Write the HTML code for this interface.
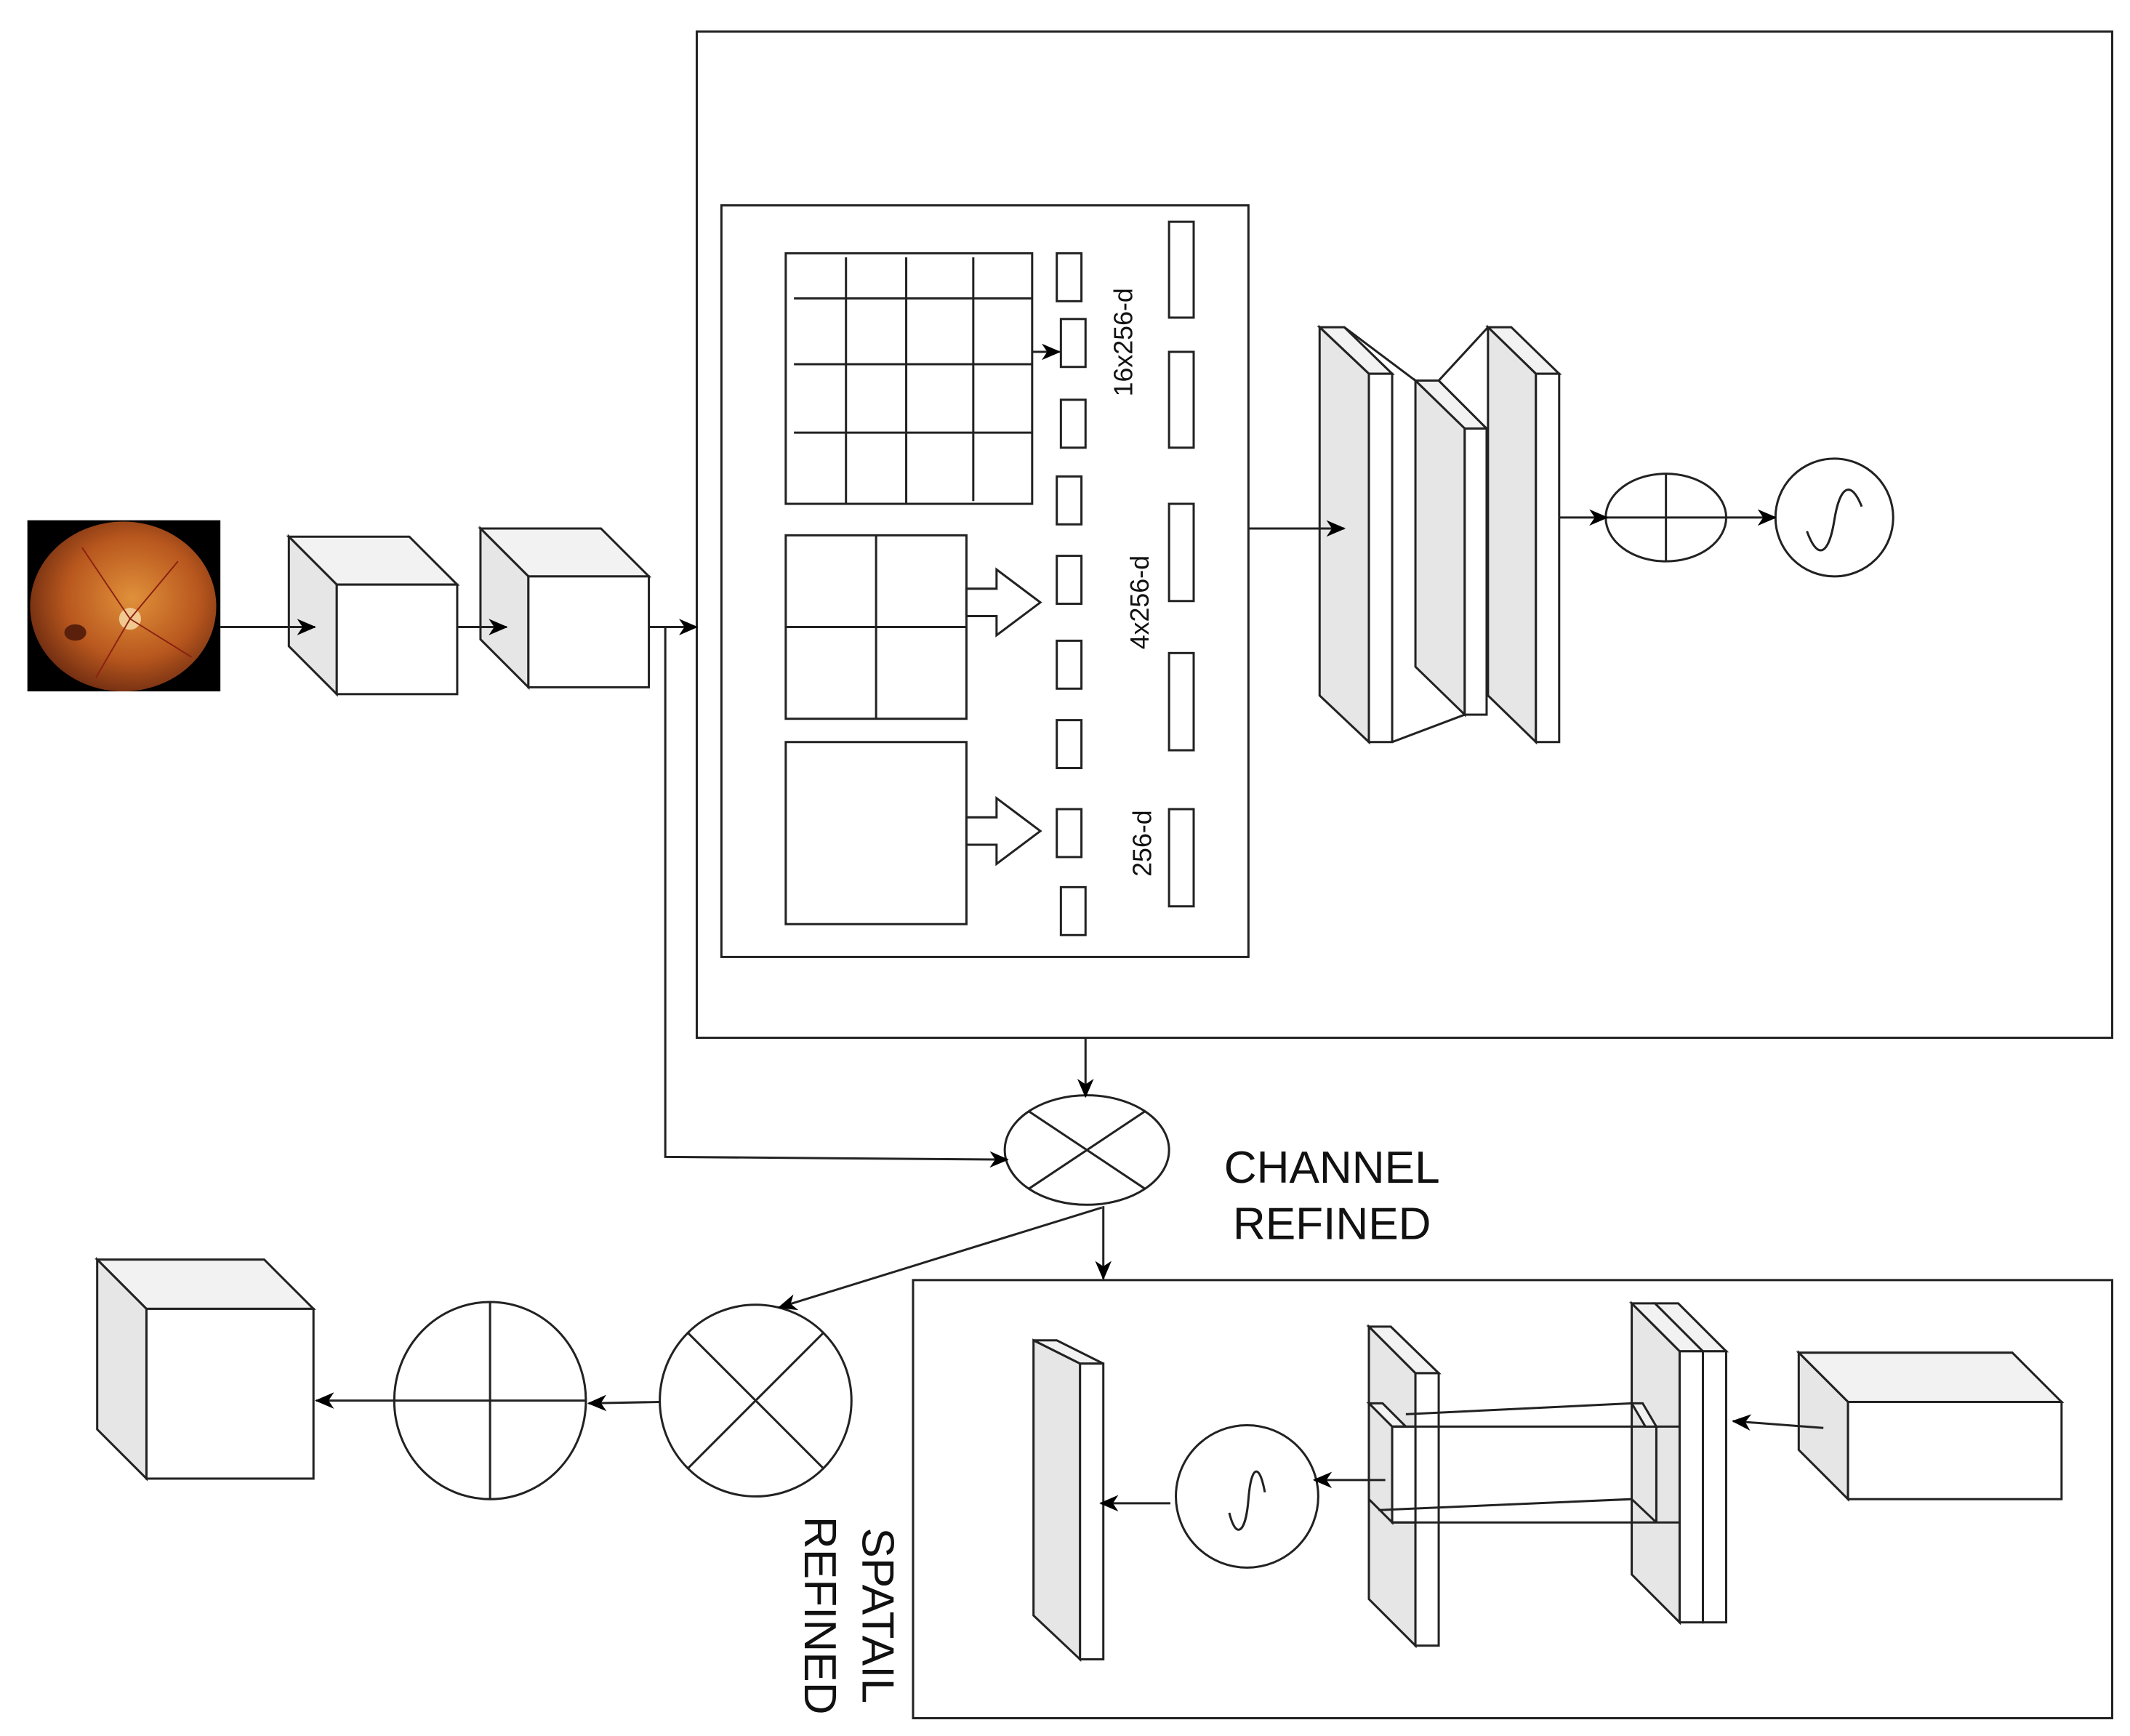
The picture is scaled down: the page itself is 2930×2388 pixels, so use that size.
<!DOCTYPE html>
<html><head><meta charset="utf-8"><style>
html,body{margin:0;padding:0;background:#fff;}
svg{display:block;}
text{font-family:"Liberation Sans",sans-serif;fill:#111;}
</style></head><body>
<svg width="2930" height="2388" viewBox="0 0 1556 1268" preserveAspectRatio="none" xmlns="http://www.w3.org/2000/svg">
<defs>
<marker id="ah" markerWidth="14" markerHeight="14" refX="13" refY="7" orient="auto" markerUnits="userSpaceOnUse">
<path d="M0,1 L14,7 L0,13 L4,7 Z" fill="#000"/></marker>
<radialGradient id="eye" cx="0.55" cy="0.45" r="0.6">
<stop offset="0" stop-color="#e0903a"/><stop offset="0.6" stop-color="#b8571e"/><stop offset="1" stop-color="#6b2a10"/></radialGradient>
</defs>
<g fill="none" stroke="#222" stroke-width="1.6">
<!-- fundus -->
<rect x="20" y="380" width="141" height="125" fill="#000" stroke="none"/>
<ellipse cx="90" cy="443" rx="68" ry="62" fill="url(#eye)" stroke="none"/>
<circle cx="95" cy="452" r="8" fill="#f0c890" stroke="none"/>
<path d="M95,452 L60,400 M95,452 L130,410 M95,452 L70,495 M95,452 L140,480" stroke="#8a2010" stroke-width="1"/>
<ellipse cx="55" cy="462" rx="8" ry="6" fill="#5a200c" stroke="none"/>
<!-- cube1 -->
<polygon points="211,392 299,392 334,427 246,427" fill="#f2f2f2"/>
<polygon points="211,392 246,427 246,507 211,472" fill="#e6e6e6"/>
<rect x="246" y="427" width="88" height="80" fill="#fff"/>
<!-- cube2 -->
<polygon points="351,386 439,386 474,421 386,421" fill="#f2f2f2"/>
<polygon points="351,386 386,421 386,502 351,467" fill="#e6e6e6"/>
<rect x="386" y="421" width="88" height="81" fill="#fff"/>
<!-- big box -->
<rect x="509" y="23" width="1034" height="735"/>
<rect x="527" y="150" width="385" height="549"/>
<!-- grids -->
<rect x="574" y="185" width="180" height="183"/>
<path d="M618,188 V368 M662,188 V368 M711,188 V366 M580,218 H754 M580,266 H754 M580,316 H754"/>
<rect x="574" y="391" width="132" height="134"/>
<path d="M640,391 V525 M574,458 H706"/>
<rect x="574" y="542" width="132" height="133"/>
<polygon points="706,430 728,430 728,416 760,440 728,464 728,450 706,450" fill="#fff"/>
<polygon points="706,597 728,597 728,583 760,607 728,631 728,617 706,617" fill="#fff"/>
<rect x="772" y="185" width="18" height="35"/>
<rect x="775" y="233" width="18" height="35"/>
<rect x="775" y="292" width="18" height="35"/>
<rect x="772" y="348" width="18" height="35"/>
<rect x="772" y="406" width="18" height="35"/>
<rect x="772" y="468" width="18" height="35"/>
<rect x="772" y="526" width="18" height="35"/>
<rect x="772" y="591" width="18" height="35"/>
<rect x="775" y="648" width="18" height="35"/>
<rect x="854" y="162" width="18" height="70"/>
<rect x="854" y="257" width="18" height="70"/>
<rect x="854" y="368" width="18" height="71"/>
<rect x="854" y="477" width="18" height="71"/>
<rect x="854" y="591" width="18" height="71"/>
<!-- plates top -->
<line x1="982" y1="239" x2="1034" y2="278"/>
<line x1="1051" y1="278" x2="1087" y2="239"/>
<line x1="1017" y1="542" x2="1070" y2="522"/>
<polygon points="964,239 982,239 1017,273 1000,273" fill="#f2f2f2"/>
<polygon points="964,239 1000,273 1000,542 964,508" fill="#e6e6e6"/>
<rect x="1000" y="273" width="17" height="269" fill="#fff"/>
<polygon points="1034,278 1051,278 1086,313 1070,313" fill="#f2f2f2"/>
<polygon points="1034,278 1070,313 1070,522 1034,487" fill="#e6e6e6"/>
<rect x="1070" y="313" width="16" height="209" fill="#fff"/>
<polygon points="1087,239 1104,239 1139,273 1122,273" fill="#f2f2f2"/>
<polygon points="1087,239 1122,273 1122,542 1087,508" fill="#e6e6e6"/>
<rect x="1122" y="273" width="17" height="269" fill="#fff"/>
<ellipse cx="1217" cy="378" rx="44" ry="32"/>
<path d="M1173,378 H1261 M1217,346 V410"/>
<circle cx="1340" cy="378" r="43"/>
<path d="M1320,388 C1328,410 1336,405 1340,380 C1344,355 1352,350 1360,370"/>
<!-- channel multiply -->
<ellipse cx="794" cy="840" rx="60" ry="40"/>
<path d="M752,812 L836,868 M836,812 L752,868"/>
<!-- bottom box -->
<rect x="667" y="935" width="876" height="320"/>
<circle cx="552" cy="1023" r="70"/>
<path d="M502,973 L602,1073 M602,973 L502,1073"/>
<ellipse cx="358" cy="1023" rx="70" ry="72"/>
<path d="M288,1023 H428 M358,951 V1095"/>
<polygon points="71,920 193,920 229,956 107,956" fill="#f2f2f2"/>
<polygon points="71,920 107,956 107,1080 71,1044" fill="#e6e6e6"/>
<rect x="107" y="956" width="122" height="124" fill="#fff"/>
<!-- spatial branch -->
<polygon points="755,979 772,979 806,996 789,996" fill="#f2f2f2"/>
<polygon points="755,979 789,996 789,1212 755,1180" fill="#e6e6e6"/>
<rect x="789" y="996" width="17" height="216" fill="#fff"/>
<ellipse cx="911" cy="1093" rx="52" ry="52"/>
<path d="M898,1105 C903,1125 910,1120 912,1095 C914,1070 920,1068 924,1090"/>
<polygon points="1000,969 1016,969 1051,1003 1034,1003" fill="#f2f2f2"/>
<polygon points="1000,969 1034,1003 1034,1202 1000,1168" fill="#e6e6e6"/>
<rect x="1034" y="1003" width="17" height="199" fill="#fff"/>
<polygon points="1192,952 1209,952 1244,987 1227,987" fill="#f2f2f2"/>
<polygon points="1209,952 1226,952 1261,987 1244,987" fill="#f2f2f2"/>
<polygon points="1192,952 1227,987 1227,1185 1192,1150" fill="#e6e6e6"/>
<rect x="1227" y="987" width="17" height="198" fill="#fff"/>
<rect x="1244" y="987" width="17" height="198" fill="#fff"/>
<!-- tube -->
<polygon points="1000,1025 1010,1025 1027,1042 1017,1042" fill="#f2f2f2"/>
<polygon points="1000,1025 1017,1042 1017,1112 1000,1095" fill="#e6e6e6"/>
<rect x="1017" y="1042" width="17" height="70" fill="#fff"/>
<line x1="1027" y1="1033" x2="1192" y2="1025"/>
<line x1="1017" y1="1042" x2="1227" y2="1042"/>
<line x1="1017" y1="1112" x2="1227" y2="1112"/>
<line x1="1007" y1="1103" x2="1192" y2="1095"/>
<polygon points="1192,1025 1200,1025 1210,1042 1202,1042" fill="#f2f2f2"/>
<line x1="1192" y1="1095" x2="1210" y2="1112"/>
<line x1="1210" y1="1042" x2="1210" y2="1112"/>
<!-- input cube -->
<polygon points="1314,988 1470,988 1506,1024 1350,1024" fill="#f2f2f2"/>
<polygon points="1314,988 1350,1024 1350,1095 1314,1059" fill="#e6e6e6"/>
<rect x="1350" y="1024" width="156" height="71" fill="#fff"/>
<!-- arrows on top -->
<line x1="161" y1="458" x2="230" y2="458" marker-end="url(#ah)"/>
<line x1="334" y1="458" x2="370" y2="458" marker-end="url(#ah)"/>
<line x1="474" y1="458" x2="509" y2="458" marker-end="url(#ah)"/>
<polyline points="486,458 486,845 736,847" marker-end="url(#ah)"/>
<line x1="754" y1="257" x2="774" y2="257" marker-end="url(#ah)"/>
<line x1="912" y1="386" x2="982" y2="386" marker-end="url(#ah)"/>
<line x1="1139" y1="378" x2="1174" y2="378" marker-end="url(#ah)"/>
<line x1="1261" y1="378" x2="1297" y2="378" marker-end="url(#ah)"/>
<line x1="793" y1="758" x2="793" y2="801" marker-end="url(#ah)"/>
<line x1="806" y1="881" x2="806" y2="934" marker-end="url(#ah)"/>
<line x1="805" y1="882" x2="569" y2="955" marker-end="url(#ah)"/>
<line x1="482" y1="1024" x2="430" y2="1025" marker-end="url(#ah)"/>
<line x1="288" y1="1023" x2="231" y2="1023" marker-end="url(#ah)"/>
<line x1="855" y1="1098" x2="804" y2="1098" marker-end="url(#ah)"/>
<line x1="1012" y1="1081" x2="960" y2="1081" marker-end="url(#ah)"/>
<line x1="1332" y1="1043" x2="1266" y2="1038" marker-end="url(#ah)"/>
</g>
<text transform="translate(827,250) rotate(-90)" font-size="19" text-anchor="middle">16x256-d</text>
<text transform="translate(839,440) rotate(-90)" font-size="19" text-anchor="middle">4x256-d</text>
<text transform="translate(841,616) rotate(-90)" font-size="19" text-anchor="middle">256-d</text>
<text x="973" y="864" font-size="33" text-anchor="middle">CHANNEL</text>
<text x="973" y="905" font-size="33" text-anchor="middle">REFINED</text>
<text transform="translate(630,1180) rotate(90)" font-size="33" text-anchor="middle">SPATAIL</text>
<text transform="translate(588,1180) rotate(90)" font-size="33" text-anchor="middle">REFINED</text>
</svg>
</body></html>
